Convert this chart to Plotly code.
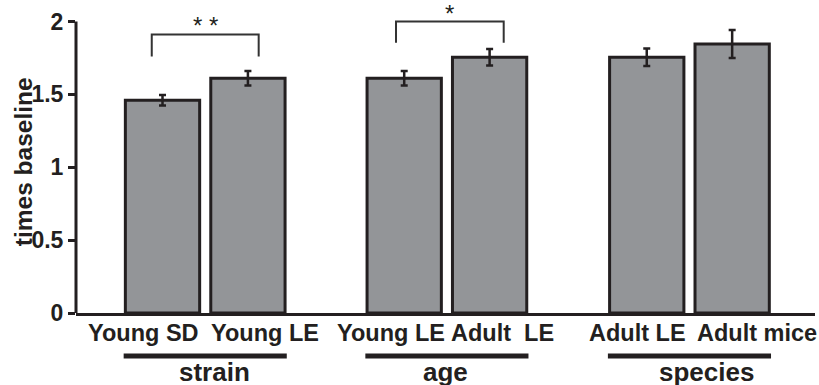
import plotly.graph_objects as go

# ---------------- data ----------------
CATEGORIES = ["Young SD", "Young LE", "Young LE", "Adult\u00a0\u00a0LE", "Adult LE", "Adult mice"]
X_POS = [0, 1, 2.83, 3.83, 5.67, 6.67]
VALUES = [1.46, 1.61, 1.61, 1.755, 1.755, 1.845]
ERRORS = [0.036, 0.05, 0.05, 0.057, 0.06, 0.096]
GROUP_NAMES = ["strain", "age", "species"]
GROUP_MEMBERS = [(0, 1), (2, 3), (4, 5)]
SIG_PAIRS = [(0, 1), (2, 3)]
SIG_TEXT = ["* *", "*"]
SIG_LOW = [1.76, 1.855]
SIG_HIGH = [1.91, 2.0]
SIG_TEXT_Y = [1.975, 2.055]
Y_TICKS = [0, 0.5, 1, 1.5, 2]
Y_TICK_TEXT = ["0", "0.5", "1", "1.5", "2"]
Y_TITLE = "times baseline"

# ---------------- style ----------------
INK = "#231f20"
FILL = "#939598"
FONT = "Liberation Sans, Arial, Helvetica, sans-serif"
BAR_WIDTH = 0.87
LABEL_SHIFT = [-19.5, 17.5, -13.5, 13, -9, 24.5]
GROUP_SHIFT = [9, -1, 17]
SIG_PAD = [(0.126, 0.126), (0.096, 0.165)]
X_RANGE = [-1.013, 7.64]
Y_RANGE = [0, 2.12]

fig = go.Figure()
fig.add_trace(go.Bar(
    x=X_POS, y=VALUES, width=BAR_WIDTH,
    marker=dict(color=FILL, line=dict(color=INK, width=3)),
    error_y=dict(type="data", array=ERRORS, color=INK, thickness=2.5, width=3.5),
    showlegend=False, hoverinfo="skip",
))

shapes = []
annotations = []

# y axis line (0..2 only)
shapes.append(dict(type="line", xref="paper", yref="y", x0=0, x1=0,
                   y0=Y_TICKS[0], y1=Y_TICKS[-1], line=dict(color=INK, width=3)))

# category labels
for i, (xp, lab) in enumerate(zip(X_POS, CATEGORIES)):
    annotations.append(dict(x=xp, y=0, xref="x", yref="paper", text=lab,
                            showarrow=False, xanchor="center", yanchor="middle",
                            xshift=LABEL_SHIFT[i], yshift=-19.5,
                            font=dict(family=FONT, size=23.5, color=INK, weight="bold")))

# group lines and names
for g, (a, b) in enumerate(GROUP_MEMBERS):
    x0 = X_POS[a] - BAR_WIDTH / 2 - 0.02
    x1 = X_POS[b] + BAR_WIDTH / 2 + 0.02
    shapes.append(dict(type="line", xref="x", yref="paper", x0=x0, x1=x1,
                       y0=-0.139, y1=-0.139, line=dict(color=INK, width=5)))
    annotations.append(dict(x=(X_POS[a] + X_POS[b]) / 2, y=0, xref="x", yref="paper",
                            text=GROUP_NAMES[g], showarrow=False,
                            xanchor="center", yanchor="middle",
                            xshift=GROUP_SHIFT[g], yshift=-59,
                            font=dict(family=FONT, size=26, color=INK, weight="bold")))

# significance brackets
for k, (a, b) in enumerate(SIG_PAIRS):
    xl = X_POS[a] - SIG_PAD[k][0]
    xr = X_POS[b] + SIG_PAD[k][1]
    path = f"M {xl},{SIG_LOW[k]} L {xl},{SIG_HIGH[k]} L {xr},{SIG_HIGH[k]} L {xr},{SIG_LOW[k]}"
    shapes.append(dict(type="path", xref="x", yref="y", path=path,
                       line=dict(color="#333333", width=2)))
    annotations.append(dict(x=(xl + xr) / 2, y=SIG_TEXT_Y[k], xref="x", yref="y",
                            text=SIG_TEXT[k], showarrow=False,
                            xanchor="center", yanchor="middle",
                            font=dict(family=FONT, size=24, color=INK)))

# y title
annotations.append(dict(x=0, y=0.488, xref="paper", yref="paper", text=Y_TITLE,
                        textangle=-90, showarrow=False, xanchor="center", yanchor="middle",
                        xshift=-53,
                        font=dict(family=FONT, size=24.5, color=INK, weight="bold")))

fig.update_layout(
    width=819, height=385,
    margin=dict(l=76, r=4, t=4, b=72),
    paper_bgcolor="white", plot_bgcolor="white",
    shapes=shapes, annotations=annotations,
    showlegend=False,
    xaxis=dict(range=X_RANGE, showgrid=False, zeroline=False, showticklabels=False,
               ticks="", showline=True, linecolor=INK, linewidth=3, fixedrange=True),
    yaxis=dict(range=Y_RANGE, showgrid=False, zeroline=False, showline=False,
               tickvals=Y_TICKS, ticktext=Y_TICK_TEXT, ticks="outside", ticklen=7,
               tickwidth=2.5, tickcolor=INK,
               tickfont=dict(family=FONT, size=23, color=INK, weight="bold"),
               fixedrange=True),
)

fig.write_html("out.html", config={"displayModeBar": False},
               post_script="document.body.style.margin='0';document.body.style.overflow='hidden';")
